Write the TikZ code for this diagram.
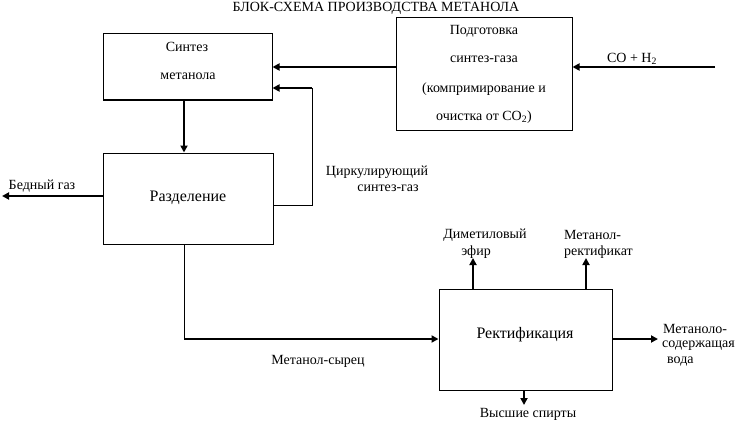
\documentclass[tikz,border=0pt]{standalone}
\usepackage{fontspec}
\setmainfont{Liberation Serif}
\usetikzlibrary{arrows.meta}
\begin{document}
\begin{tikzpicture}[x=1pt,y=-1pt,
  box/.style={draw, line width=1pt, inner sep=0pt},
  flow/.style={line width=2.4pt, -{Triangle[length=7pt,width=7pt]}},
  plain/.style={line width=1pt},
  txt/.style={font=\fontsize{14}{16}\selectfont, inner sep=0pt},
  big/.style={font=\fontsize{16}{18}\selectfont, inner sep=0pt}]
\useasboundingbox (0,0) rectangle (742,436);
% boxes
\node[box, minimum width=169pt, minimum height=66pt] (synth) at (187.5,67) {};
\node[box, minimum width=176pt, minimum height=112pt] (prep) at (484,74) {};
\node[box, minimum width=170pt, minimum height=91pt] (sep) at (188,198.5) {};
\node[box, minimum width=173pt, minimum height=101pt] (rect) at (525.5,339.5) {};
% coordinates
\coordinate (in) at (715,67);
\coordinate (fb) at (312,88);
\coordinate (fbl) at (312,205);
\coordinate (sx) at (184,0);
\coordinate (bc) at (184,339);
\coordinate (bg) at (2,196);
\coordinate (u1) at (473,258);
\coordinate (u2) at (586,258);
\coordinate (r1) at (658,339);
\coordinate (d1) at (524,405);
% connectors
\draw[flow] (in) -- (prep.east |- in);
\draw[flow] (prep.west |- in) -- (synth.east |- in);
\draw[plain] (sep.east |- fbl) -- (fbl) -- (fb);
\draw[flow] (fb) -- (synth.east |- fb);
\draw[flow] (synth.south -| sx) -- (sep.north -| sx);
\draw[flow] (sep.west |- bg) -- (bg);
\draw[plain] (sep.south -| bc) -- (bc);
\draw[flow] (bc) -- (rect.west |- bc);
\draw[flow] (rect.north -| u1) -- (u1);
\draw[flow] (rect.north -| u2) -- (u2);
\draw[flow] (rect.east |- r1) -- (r1);
\draw[flow] (rect.south -| d1) -- (d1);
% texts
\node[txt] (title) at (376,8) {БЛОК-СХЕМА ПРОИЗВОДСТВА МЕТАНОЛА};
\node[txt] (t1) at (187,47) {Синтез};
\node[txt] (t2) at (188,76) {метанола};
\node[txt] (t3) at (484,31) {Подготовка};
\node[txt] (t4) at (484,59) {синтез-газа};
\node[txt] (t5) at (484,89) {(компримирование и};
\node[txt] (t6) at (484,117) {очистка от CO\textsubscript{2})};
\node[txt] (t7) at (632,59) {CO + H\textsubscript{2}};
\node[big] (t8) at (188,198) {Разделение};
\node[txt] (t9) at (42,186) {Бедный газ};
\node[txt] (t10) at (377,172) {Циркулирующий};
\node[txt] (t11) at (388,188) {синтез-газ};
\node[txt] (t12) at (485,235) {Диметиловый};
\node[txt] (t13) at (476,252) {эфир};
\node[txt, anchor=west] (t14) at (564,235) {Метанол-};
\node[txt, anchor=west] (t15) at (564,252) {ректификат};
\node[big] (t16) at (525,335) {Ректификация};
\node[txt] (t17) at (318,361) {Метанол-сырец};
\node[txt, anchor=west] (t18) at (663,329) {Метаноло-};
\node[txt, anchor=west] (t19) at (662,346) {содержащая};
\node[txt, anchor=west] (t20) at (667,362) {вода};
\node[txt] (t21) at (528,414) {Высшие спирты};
\end{tikzpicture}
\end{document}
